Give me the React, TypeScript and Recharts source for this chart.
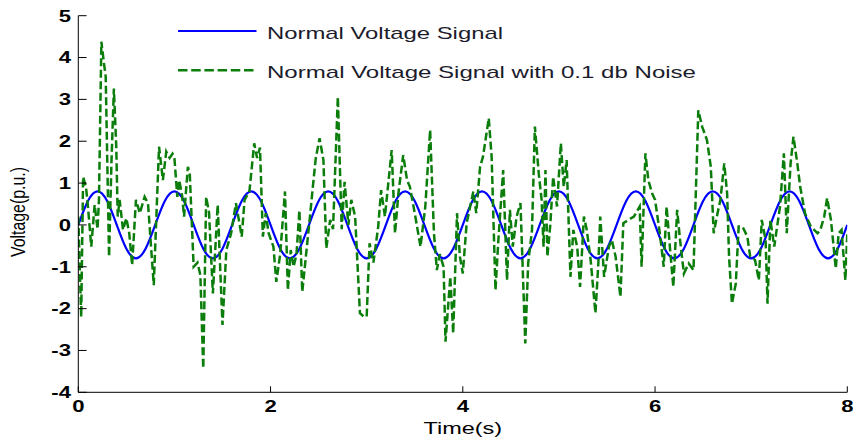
import React from 'react';
import { LineChart, Line, XAxis, YAxis } from 'recharts';

const FONT = '"Liberation Sans", Arial, Helvetica, sans-serif';

// Axis ticks
const timeTicks = [0, 2, 4, 6, 8];
const voltageTicks = [-4, -3, -2, -1, 0, 1, 2, 3, 4, 5];

// Series names
const seriesNames = ['Normal Voltage Signal', 'Normal Voltage Signal with 0.1 db Noise'];

// Clean signal, sampled every 0.1 s from 0 to 8 s
const CLEAN_STEP = 0.1;
const cleanVoltage = [
  0, 0.57, 0.8, 0.57, 0, -0.57, -0.8, -0.57,
  0, 0.57, 0.8, 0.57, 0, -0.57, -0.8, -0.57,
  0, 0.57, 0.8, 0.57, 0, -0.57, -0.8, -0.57,
  0, 0.57, 0.8, 0.57, 0, -0.57, -0.8, -0.57,
  0, 0.57, 0.8, 0.57, 0, -0.57, -0.8, -0.57,
  0, 0.57, 0.8, 0.57, 0, -0.57, -0.8, -0.57,
  0, 0.57, 0.8, 0.57, 0, -0.57, -0.8, -0.57,
  0, 0.57, 0.8, 0.57, 0, -0.57, -0.8, -0.57,
  0, 0.57, 0.8, 0.57, 0, -0.57, -0.8, -0.57,
  0, 0.57, 0.8, 0.57, 0, -0.57, -0.8, -0.57,
  0,
];

// Noisy signal: sample times (s)
const noisyTime = [
  0, 0.03, 0.05, 0.08, 0.1, 0.135, 0.17, 0.2, 0.215, 0.24, 0.265, 0.285, 0.32, 0.345, 0.37, 0.395, 0.41, 0.43, 0.465, 0.5, 0.53, 0.56, 0.6, 0.64, 0.69, 0.725, 0.785, 0.84, 0.88, 0.915, 0.95, 0.98,
  1.0, 1.03, 1.05, 1.08, 1.1, 1.14, 1.16, 1.2, 1.24, 1.27, 1.3, 1.33, 1.36, 1.4, 1.45, 1.5, 1.54, 1.59, 1.64, 1.7, 1.73, 1.78, 1.83, 1.86, 1.89, 1.92, 1.95, 1.98,
  2.03, 2.06, 2.1, 2.15, 2.18, 2.21, 2.24, 2.27, 2.3, 2.33, 2.37, 2.41, 2.44, 2.47, 2.51, 2.55, 2.58, 2.62, 2.65, 2.7, 2.74, 2.77, 2.81, 2.84, 2.88, 2.93, 2.97,
  3.0, 3.03, 3.07, 3.12, 3.15, 3.19, 3.26, 3.295, 3.33, 3.38, 3.42, 3.45, 3.5, 3.56, 3.61, 3.66, 3.7, 3.73, 3.76, 3.8, 3.82, 3.87, 3.9, 3.94, 3.97,
  4.0, 4.04, 4.11, 4.14, 4.18, 4.21, 4.27, 4.3, 4.34, 4.37, 4.42, 4.46, 4.49, 4.52, 4.56, 4.6, 4.65, 4.68, 4.72, 4.75, 4.79, 4.82, 4.84, 4.86, 4.88, 4.91, 4.94, 4.98,
  5.02, 5.05, 5.08, 5.12, 5.15, 5.19, 5.22, 5.26, 5.29, 5.33, 5.38, 5.41, 5.43, 5.47, 5.52, 5.55, 5.59, 5.64, 5.67, 5.72, 5.78, 5.81, 5.84, 5.86, 5.9, 5.93, 5.97,
  6.0, 6.05, 6.09, 6.12, 6.16, 6.19, 6.23, 6.26, 6.3, 6.35, 6.4, 6.45, 6.49, 6.54, 6.58, 6.61, 6.65, 6.68, 6.72, 6.75, 6.77, 6.8, 6.84, 6.87, 6.91, 6.96, 6.99,
  7.04, 7.08, 7.11, 7.15, 7.17, 7.2, 7.24, 7.27, 7.3, 7.34, 7.37, 7.41, 7.44, 7.48, 7.51, 7.56, 7.62, 7.69, 7.72, 7.76, 7.79, 7.83, 7.88, 7.91, 7.94, 7.98, 8.0,
];

// Noisy signal: voltage (p.u.) at each sample time
const noisyVoltage = [
  0.2, -2.2, 1.15, 0.9, 0.45, -0.52, 0.48, -0.1, 0.6, 4.38, 3.9, 3.55, -0.76, 1.5, 3.26, 1.87, 0.2, 0.6, -0.12, 0.16, -0.2, -0.96, 0.6, 0.28, 0.67, 0.52, -1.44, 1.87, 1.07, 1.75, 1.6, 1.7,
  1.6, 0.67, 1.07, 0.7, 0.2, 1.39, 1.2, -1.0, -0.9, -1.2, -3.43, 0.67, 0.3, -1.64, 0.48, -2.39, -0.6, -0.2, 0.52, -0.28, 0.6, 0.8, 1.95, 1.6, 1.85, -0.28, 0.28, -0.2,
  -0.52, -1.36, -0.7, 0.8, -1.56, -0.6, -1.0, -0.7, 0.35, -1.6, -0.7, 0.2, 0.91, 1.59, 2.07, 1.55, -0.56, 0.12, -0.1, 3.06, -0.1, 1.03, 0.0, 0.6, 0.2, -2.11, -2.19,
  -2.19, -0.44, -0.9, -0.04, 0.83, 0.2, 1.79, -0.2, 0.75, 1.67, 1.07, 0.91, 0.28, -0.52, 0.44, 2.27, -0.2, -1.08, -0.7, -1.0, -2.79, -1.24, -2.59, 0.28, -0.76,
  -1.16, 0.04, 0.8, 0.28, 1.39, 1.63, 2.55, 1.63, -1.56, -0.36, 1.31, -1.32, 0.36, -0.52, 0.2, 0.52, -2.83, -0.92, -0.12, 2.35, 1.23, 0.6, -0.52, 1.31, -0.76, 0.0, 1.15, 0.44,
  1.95, 0.91, 1.55, -1.24, -0.12, -0.52, -1.48, 0.2, -0.12, -0.84, -2.11, -0.92, 0.2, -1.24, -0.52, -0.36, -0.76, -1.72, 0.04, 0.12, 0.2, 0.32, 0.44, -1.0, 1.71, 1.07, 0.75,
  0.6, -0.2, -1.0, 0.44, -0.68, -1.48, 0.36, -0.36, -1.16, -0.92, -1.08, 2.74, 2.35, 2.03, 1.39, -0.2, 0.28, 0.6, 1.47, 0.75, -0.76, -1.88, -1.4, -0.04, -0.04, -0.28, -0.76,
  -0.84, -1.32, 0.12, -0.36, -1.88, 0.12, -0.52, -0.04, 0.44, 1.71, -0.2, 1.47, 2.11, 1.47, 0.91, 0.28, -0.04, -0.2, -0.12, 0.2, 0.64, 0.12, -1.04, -0.2, -0.12, -1.32, -0.2,
];

const cleanData = cleanVoltage.map((v, i) => ({ t: Math.round(i * CLEAN_STEP * 10) / 10, v }));
const noisyData = noisyTime.map((t, i) => ({ t, v: noisyVoltage[i] }));

const BLUE = '#0000ff';
const GREEN = '#0a7d0a';
const STRETCH = 1.38; // wide glyph rendering

const W = 853;
const H = 441;
const PLOT_LEFT = 78.3;
const PLOT_RIGHT = 847.3;
const PLOT_TOP = 15.7;
const PLOT_BOTTOM = 392.3;

const XTick = (props: any) => {
  const { x, y, payload } = props;
  return (
    <g>
      <line x1={x} y1={y} x2={x} y2={y - 6} stroke="#000" strokeWidth={1} />
      <g transform={`translate(${x},${y + 19.7})`}>
        <text
          transform={`scale(${STRETCH},1)`}
          textAnchor="middle"
          fontFamily={FONT}
          fontWeight="bold"
          fontSize={16}
          fill="#000"
        >
          {payload.value}
        </text>
      </g>
    </g>
  );
};

const YTick = (props: any) => {
  const { x, y, payload } = props;
  return (
    <g>
      <line x1={x} y1={y} x2={x + 8.3} y2={y} stroke="#000" strokeWidth={1} />
      <g transform={`translate(${x - 7.3},${y + 5.8})`}>
        <text
          transform={`scale(${STRETCH},1)`}
          textAnchor="end"
          fontFamily={FONT}
          fontWeight="bold"
          fontSize={16}
          fill="#000"
        >
          {payload.value}
        </text>
      </g>
    </g>
  );
};

export default function App() {
  return (
    <div style={{ position: 'fixed', left: 0, top: 0, width: W, height: H, background: '#fff' }}>
      <LineChart
        width={W}
        height={H}
        margin={{ top: PLOT_TOP, right: W - PLOT_RIGHT, bottom: 0, left: 0 }}
      >
        <XAxis
          type="number"
          dataKey="t"
          domain={[0, 8]}
          ticks={timeTicks}
          allowDataOverflow
          height={H - PLOT_BOTTOM}
          tickSize={0}
          tickMargin={0}
          tick={<XTick />}
          axisLine={{ stroke: '#000', strokeWidth: 1 }}
          tickLine={false}
        />
        <YAxis
          type="number"
          domain={[-4, 5]}
          ticks={voltageTicks}
          allowDataOverflow
          width={PLOT_LEFT}
          tickSize={0}
          tickMargin={0}
          tick={<YTick />}
          axisLine={{ stroke: '#000', strokeWidth: 1 }}
          tickLine={false}
        />
        <Line
          data={cleanData}
          dataKey="v"
          name={seriesNames[0]}
          type="natural"
          stroke={BLUE}
          strokeWidth={2.2}
          dot={false}
          activeDot={false}
          isAnimationActive={false}
        />
        <Line
          data={noisyData}
          dataKey="v"
          name={seriesNames[1]}
          type="linear"
          stroke={GREEN}
          strokeWidth={2.5}
          strokeDasharray="8 3.5"
          dot={false}
          activeDot={false}
          isAnimationActive={false}
        />
      </LineChart>
      <svg
        width={W}
        height={H}
        style={{ position: 'absolute', left: 0, top: 0, pointerEvents: 'none' }}
      >
        {/* legend */}
        <line x1={178} y1={31} x2={256.5} y2={31} stroke={BLUE} strokeWidth={2} />
        <text
          x={267}
          y={39.2}
          fontFamily={FONT}
          fontSize={17}
          fill="#1c1c2c"
          textLength={236}
          lengthAdjust="spacingAndGlyphs"
        >
          {seriesNames[0]}
        </text>
        <line
          x1={178}
          y1={70.3}
          x2={256.5}
          y2={70.3}
          stroke={GREEN}
          strokeWidth={2.5}
          strokeDasharray="9.5 3.7"
        />
        <text
          x={267}
          y={77.8}
          fontFamily={FONT}
          fontSize={17}
          fill="#1c1c2c"
          textLength={429}
          lengthAdjust="spacingAndGlyphs"
        >
          {seriesNames[1]}
        </text>
        {/* axis titles */}
        <g transform={`translate(${(PLOT_LEFT + PLOT_RIGHT) / 2},434)`}>
          <text transform={`scale(${STRETCH},1)`} textAnchor="middle" fontFamily={FONT} fontSize={17} fill="#000">
            Time(s)
          </text>
        </g>
        <g transform="translate(25,212) rotate(-90)">
          <text
            transform="scale(1,1.3)"
            textAnchor="middle"
            fontFamily={FONT}
            fontSize={15}
            fill="#000"
            textLength={90}
            lengthAdjust="spacingAndGlyphs"
          >
            Voltage(p.u.)
          </text>
        </g>
      </svg>
    </div>
  );
}
